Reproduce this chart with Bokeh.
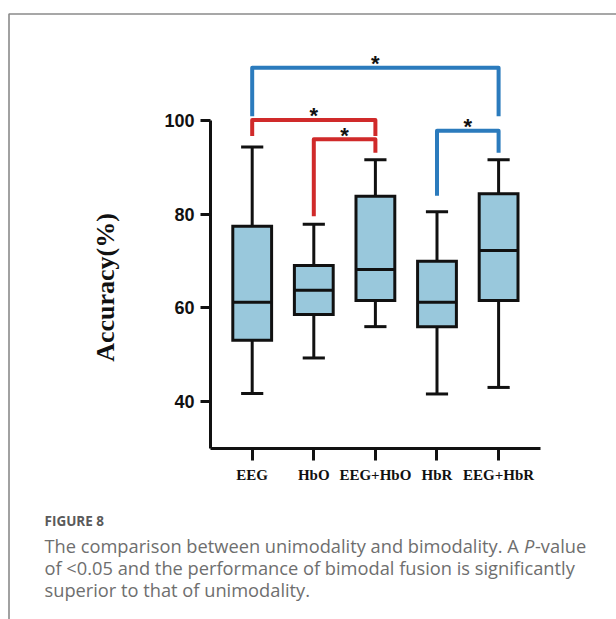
from math import pi
from bokeh.plotting import figure
from bokeh.models import FixedTicker, Range1d, ColumnDataSource, LinearAxis
from bokeh.core.properties import value
from bokeh.embed import file_html
from bokeh.resources import INLINE

# ---------------- data ----------------
categories = ["EEG", "HbO", "EEG+HbO", "HbR", "EEG+HbR"]
whisker_low = [41.7, 49.3, 56.0, 41.6, 43.0]
q1 = [53.1, 58.6, 61.6, 56.0, 61.6]
median = [61.2, 63.8, 68.2, 61.2, 72.3]
q3 = [77.5, 69.1, 83.9, 70.0, 84.4]
whisker_high = [94.4, 77.9, 91.7, 80.6, 91.7]

y_ticks = [40, 60, 80, 100]
y_title = "Accuracy(%)"

# significance brackets (indices into categories)
bracket_from = [0, 0, 1, 3]
bracket_to = [4, 2, 2, 4]
bracket_top = [111.4, 100.2, 96.1, 97.9]
leg_from_low = [101.0, 96.8, 79.6, 84.0]
leg_to_low = [101.0, 96.8, 93.2, 93.2]
bracket_color = ["#2b7bbd", "#d02a2a", "#d02a2a", "#2b7bbd"]
bracket_label = ["*", "*", "*", "*"]

caption_head = "FIGURE 8"
caption_line1 = ["The comparison between unimodality and bimodality. A", "P", "-value"]
caption_line2 = "of <0.05 and the performance of bimodal fusion is significantly"
caption_line3 = "superior to that of unimodality."

# ---------------- styles ----------------
BOX_FILL = "#99c8dc"
INK = "#111111"
BOX_W = 0.63
CAP_W = 0.36
W, H = 616, 619

xs_idx = list(range(len(categories)))

p = figure(
    width=W, height=H,
    x_range=Range1d(-4.086, 5.914), y_range=Range1d(-6.64, 125.76),
    x_axis_location=None, y_axis_location=None,
    min_border=0, min_border_left=0, min_border_right=0, min_border_top=0, min_border_bottom=0,
    output_backend="svg", toolbar_location=None,
)
# page-pixel ranges for the figure frame and caption
p.extra_x_ranges = {"px": Range1d(0, W)}
p.extra_y_ranges = {"py": Range1d(H, 0)}
p.background_fill_color = "white"
p.border_fill_color = "white"
p.outline_line_color = None
p.xgrid.visible = False
p.ygrid.visible = False

# boxes
src = ColumnDataSource(dict(
    x=xs_idx, lo=whisker_low, q1=q1, med=median, q3=q3, hi=whisker_high,
    cap0=[i - CAP_W / 2 for i in xs_idx], cap1=[i + CAP_W / 2 for i in xs_idx],
    b0=[i - BOX_W / 2 for i in xs_idx], b1=[i + BOX_W / 2 for i in xs_idx],
))
p.segment(x0="x", y0="lo", x1="x", y1="q1", source=src, line_color=INK, line_width=3)
p.segment(x0="x", y0="q3", x1="x", y1="hi", source=src, line_color=INK, line_width=3)
p.segment(x0="cap0", y0="lo", x1="cap1", y1="lo", source=src, line_color=INK, line_width=3)
p.segment(x0="cap0", y0="hi", x1="cap1", y1="hi", source=src, line_color=INK, line_width=3)
p.vbar(x="x", width=BOX_W, bottom="q1", top="q3", source=src,
       fill_color=BOX_FILL, line_color=INK, line_width=3, line_join="miter")
p.segment(x0="b0", y0="med", x1="b1", y1="med", source=src, line_color=INK, line_width=3)

# brackets
bxs, bys = [], []
for a, b, t, la, lb in zip(bracket_from, bracket_to, bracket_top, leg_from_low, leg_to_low):
    bxs.append([a, a, b, b])
    bys.append([la, t, t, lb])
p.multi_line(xs=bxs, ys=bys, line_color=bracket_color, line_width=4, line_join="round")
star_x = [(a + b) / 2 for a, b in zip(bracket_from, bracket_to)]
p.text(x=star_x, y=bracket_top, text=bracket_label, text_font=value("Liberation Sans"),
       text_font_style="bold", text_font_size="22px", text_align="center",
       text_baseline="middle", y_offset=-4, text_color=INK)

# axes drawn at fixed data locations
yax = LinearAxis(fixed_location=-0.677)
yax.ticker = FixedTicker(ticks=y_ticks)
yax.bounds = (30, 100)
yax.axis_line_width = 3
yax.axis_line_color = INK
yax.major_tick_line_width = 3
yax.major_tick_line_color = INK
yax.major_tick_in = 0
yax.major_tick_out = 10
yax.minor_tick_line_color = None
yax.major_label_text_font = "Liberation Sans"
yax.major_label_text_font_style = "bold"
yax.major_label_text_font_size = "18px"
yax.major_label_text_color = INK
yax.major_label_standoff = 6
p.add_layout(yax, "left")

xax = LinearAxis(fixed_location=30)
xax.ticker = FixedTicker(ticks=xs_idx)
xax.major_label_overrides = {i: c for i, c in zip(xs_idx, categories)}
xax.bounds = (-0.677, 4.68)
xax.axis_line_width = 3
xax.axis_line_color = INK
xax.major_tick_line_width = 3
xax.major_tick_line_color = INK
xax.major_tick_in = 0
xax.major_tick_out = 12
xax.minor_tick_line_color = None
xax.major_label_text_font = "Liberation Serif"
xax.major_label_text_font_style = "bold"
xax.major_label_text_font_size = "15px"
xax.major_label_text_color = INK
xax.major_label_standoff = 7
p.add_layout(xax, "below")

# y-axis title
p.text(x=[105], y=[287], text=[y_title], x_range_name="px", y_range_name="py",
       angle=pi / 2, text_font=value("Liberation Serif"), text_font_style="bold",
       text_font_size="26px", text_color=INK, text_align="center", text_baseline="middle")

# figure frame (page pixel space)
p.line(x=[8.5, 8.5, W], y=[H, 13.5, 13.5], x_range_name="px", y_range_name="py",
       line_color="#8a8a8a", line_width=1.6)

# caption (page pixel space)
CAP_FONT = value("Open Sans")
CAP_COLOR = "#6e6e6e"
CAP_SIZE = "18.25px"
cap_x = 44
p.text(x=[cap_x], y=[520.7], text=[caption_head], x_range_name="px", y_range_name="py",
       text_font=CAP_FONT, text_font_size="13.5px", text_font_style="bold",
       text_color="#5a5a5a", text_baseline="alphabetic")
p.text(x=[cap_x], y=[545], text=[caption_line1[0]], x_range_name="px", y_range_name="py",
       text_font=CAP_FONT, text_font_size=CAP_SIZE, text_color=CAP_COLOR,
       text_baseline="alphabetic")
p.text(x=[cap_x + 479.5], y=[545], text=[caption_line1[1]], x_range_name="px", y_range_name="py",
       text_font=CAP_FONT, text_font_size=CAP_SIZE, text_font_style="italic",
       text_color=CAP_COLOR, text_baseline="alphabetic")
p.text(x=[cap_x + 490.5], y=[545], text=[caption_line1[2]], x_range_name="px", y_range_name="py",
       text_font=CAP_FONT, text_font_size=CAP_SIZE, text_color=CAP_COLOR,
       text_baseline="alphabetic")
p.text(x=[cap_x], y=[567], text=[caption_line2], x_range_name="px", y_range_name="py",
       text_font=CAP_FONT, text_font_size=CAP_SIZE, text_color=CAP_COLOR,
       text_baseline="alphabetic")
p.text(x=[cap_x], y=[589], text=[caption_line3], x_range_name="px", y_range_name="py",
       text_font=CAP_FONT, text_font_size=CAP_SIZE, text_color=CAP_COLOR,
       text_baseline="alphabetic")

open("out.html", "w").write(file_html(p, INLINE))
